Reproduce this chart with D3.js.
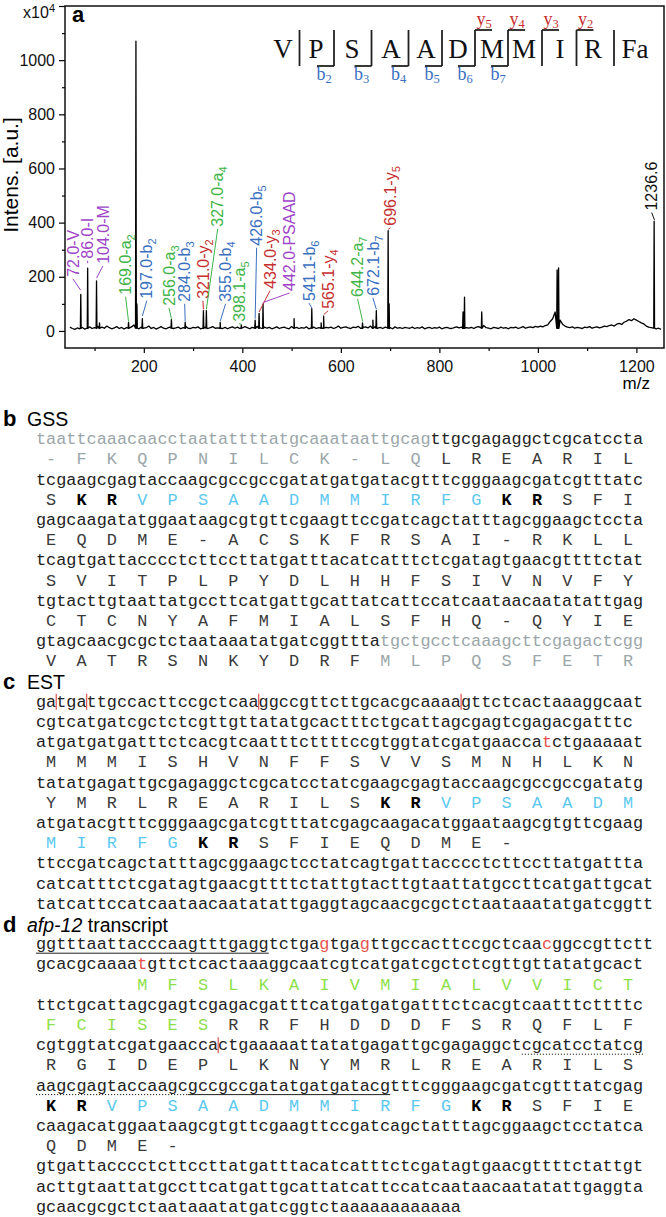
<!DOCTYPE html>
<html>
<head>
<meta charset="utf-8">
<script src="https://cdn.jsdelivr.net/npm/d3@7"></script>
<style>
body { margin: 0; background: #fff; }
text { font-family: "Liberation Sans", Arial, sans-serif; }
.seq { font-family: "Liberation Mono", "Courier New", monospace; font-size: 16.87px; }
</style>
</head>
<body>
<div id="chart"></div>
<script>
// ---- panel a: spectrum data ----
var peaks = [[72,135],[86,232],[104,185],[110,30],[169,32],[184,1070],[186,100],[197,45],[256,42],[284,32],
  [321,75],[327,75],[355,32],[398,22],[426,40],[434,65],[442,100],[505,45],[541,82],[560,30],[565,55],
  [644,30],[665,40],[672,75],[696,370],[698,100],[848,70],[851,125],[886,70],[1039,225],[1042,233],[1236,405]];

// baseline noise, every 5 m/z from 50
var noiseStart = 50, noiseStep = 5;
var noiseLevel = [
  14,9,6,11,8,13,7,10,15,9,12,20,26,14,10,18,12,8,11,16,
  9,13,7,12,10,15,22,11,8,14,10,12,18,9,13,7,11,16,10,8,
  12,15,9,11,14,8,12,17,10,9,13,11,15,8,10,14,9,12,16,10,
  11,18,9,13,8,12,15,10,14,9,11,16,12,8,13,10,17,12,9,14,
  10,13,8,11,15,9,12,14,10,8,16,11,13,9,12,10,15,8,11,14,
  9,12,16,10,13,11,14,9,12,18,10,13,15,11,9,14,12,17,10,13,
  15,11,18,12,16,10,13,9,14,11,12,8,15,10,12,9,13,11,10,14,
  9,12,10,15,8,11,13,9,12,10,14,8,11,13,10,9,12,15,11,14,
  18,12,10,13,9,14,16,11,20,12,10,8,13,11,9,14,10,12,8,13,
  11,14,9,12,16,10,13,15,12,17,14,18,15,20,22,35,45,70,90,40,
  25,18,14,12,15,10,13,11,9,14,12,16,10,13,15,11,14,18,16,20,
  22,18,25,28,24,32,36,42,38,45,40,35,30,26,18,14,12,10,8,10,
  6];

var labelMz = [72,86,104,169,197,256,284,321,327,355,398.1,426,434,442,541.1,565.1,644.2,672.1,696.1,1236.6];
var labelText = ['72.0-V','86.0-I','104.0-M','169.0-a','197.0-b','256.0-a','284.0-b','321.0-y','327.0-a','355.0-b',
  '398.1-a','426.0-b','434.0-y','442.0-PSAAD','541.1-b','565.1-y','644.2-a','672.1-b','696.1-y','1236.6'];
var labelSub = ['','','','2','2','3','3','2','4','4','5','5','3','','6','4','7','7','5',''];
var labelKind = ['imm','imm','imm','a','b','a','b','y','a','b','a','b','y','int','b','y','a','b','y','parent'];
var leaderEnd = [150,250,195,35,55,45,35,80,80,35,25,45,70,105,85,60,35,80,375,410];
// where each rotated label starts (m/z, intensity)
var labelAt = [[56,196],[86,263],[117,244],[163,130],[206,115],[251,89],[283,104],[320,115],[350,381],[366,104],
  [393,30],[429,311],[456,152],[496,144],[535,107],[574,78],[634,122],[665,126],[701,385],[1231,441]];

var xMajor = [200,400,600,800,1000,1200];
var xMinor = [100,300,500,700,900,1100];
var yMajor = [0,200,400,600,800,1000,1200];
var yMinor = [100,300,500,700,900,1100];

// peptide fragment map
var residues = ['V','P','S','A','A','D','M','M','I','R','Fa'];
var bIons = [2,3,4,5,6,7];
var yIons = [5,4,3,2];

// ---- panels b-d: sequences ----
var gssRows = [
  'taattcaaacaacctaatattttatgcaaataattgcagttgcgagaggctcgcatccta',
  '-FKQPNILCK-LQLREARIL',
  'tcgaagcgagtaccaagcgccgccgatatgatgatacgtttcgggaagcgatcgtttatc',
  'SKRVPSAADMMIRFGKRSFI',
  'gagcaagatatggaataagcgtgttcgaagttccgatcagctatttagcggaagctccta',
  'EQDME-ACSKFRSAI-RKLL',
  'tcagtgattacccctcttccttatgatttacatcatttctcgatagtgaacgttttctat',
  'SVITPLPYDLHHFSIVNVFY',
  'tgtacttgtaattatgccttcatgattgcattatcattccatcaataacaatatattgag',
  'CTCNYAFMIALSFHQ-QYIE',
  'gtagcaacgcgctctaataaatatgatcggtttatgctgcctcaaagcttcgagactcgg',
  'VATRSNKYDRFMLPQSFETR'
];
var gssSpans = [[0,0,39,'flank'],[1,0,13,'flank'],[3,1,3,'cleave'],[3,3,15,'peptide'],[3,15,17,'cleave'],
  [10,34,60,'flank'],[11,11,20,'flank']];

var estRows = [
  'gatgattgccacttccgctcaaggccgttcttgcacgcaaaagttctcactaaaggcaat',
  'cgtcatgatcgctctcgttgttatatgcactttctgcattagcgagtcgagacgatttc',
  'atgatgatgatttctcacgtcaatttcttttccgtggtatcgatgaaccatctgaaaaat',
  'MMMISHVNFFSVVSMNHLKN',
  'tatatgagattgcgagaggctcgcatcctatcgaagcgagtaccaagcgccgccgatatg',
  'YMRLREARILSKRVPSAADM',
  'atgatacgtttcgggaagcgatcgtttatcgagcaagacatggaataagcgtgttcgaag',
  'MIRFGKRSFIEQDME-',
  'ttccgatcagctatttagcggaagctcctatcagtgattacccctcttccttatgattta',
  'catcatttctcgatagtgaacgttttctattgtacttgtaattatgccttcatgattgcat',
  'tatcattccatcaataacaatatattgaggtagcaacgcgctctaataaatatgatcggtt'
];
var estSpans = [[2,50,51,'junction'],[5,11,13,'cleave'],[5,13,20,'peptide'],[7,0,5,'peptide'],[7,5,7,'cleave']];
var estCuts = [[0,2],[0,5],[0,22],[0,42]];

var afpRows = [
  'ggtttaattacccaagtttgaggtctgagtgagttgccacttccgctcaacggccgttctt',
  'gcacgcaaaatgttctcactaaaggcaatcgtcatgatcgctctcgttgttatatgcact',
  '   MFSLKAIVMIALVVICT',
  'ttctgcattagcgagtcgagacgatttcatgatgatgatttctcacgtcaatttcttttc',
  'FCISESRRFHDDDFSRQFLF',
  'cgtggtatcgatgaaccactgaaaaattatatgagattgcgagaggctcgcatcctatcg',
  'RGIDEPLKNYMRLREARILS',
  'aagcgagtaccaagcgccgccgatatgatgatacgtttcgggaagcgatcgtttatcgag',
  'KRVPSAADMMIRFGKRSFIE',
  'caagacatggaataagcgtgttcgaagttccgatcagctatttagcggaagctcctatca',
  'QDME-',
  'gtgattacccctcttccttatgatttacatcatttctcgatagtgaacgttttctattgt',
  'acttgtaattatgccttcatgattgcattatcattccatcaataacaatatattgaggta',
  'gcaacgcgctctaataaatatgatcggtctaaaaaaaaaaaa'
];
var afpSpans = [[0,28,29,'junction'],[0,32,33,'junction'],[0,50,51,'junction'],[1,10,11,'junction'],
  [2,3,20,'signal'],[4,0,6,'signal'],[8,0,2,'cleave'],[8,2,14,'peptide'],[8,14,16,'cleave']];
var afpCuts = [[5,18]];
var afpLines = [[0,0,23,'solid'],[5,48,60,'dotted'],[7,0,15,'dotted'],[7,15,35,'solid']];

// ---- styles ----
var ionColor = { imm: '#a044c8', int: '#a044c8', a: '#3fb447', b: '#3a6fbf', y: '#c62f2f', parent: '#111' };
var seqColor = { plain: '#222', flank: '#9aa6a9', cleave: '#000', peptide: '#5cc8ef', signal: '#8ee04a', junction: '#e5534b' };

var svg = d3.select('#chart').append('svg').attr('width', 666).attr('height', 1217);
svg.append('rect').attr('width', 666).attr('height', 1217).attr('fill', '#fff');

// ---- panel a ----
var x = d3.scaleLinear().domain([40, 1256]).range([65, 664]);
var y = d3.scaleLinear().domain([-63, 1200]).range([348, 6]);

svg.append('clipPath').attr('id', 'plotclip').append('rect')
  .attr('x', 65).attr('y', 6).attr('width', 599).attr('height', 342);

var pts = noiseLevel.map(function(v, i) { return [noiseStart + i * noiseStep, v]; });
peaks.forEach(function(p) {
  pts.push([p[0] - 0.8, 10], [p[0], p[1]], [p[0] + 0.8, 10]);
});
pts.sort(function(a, b) { return a[0] - b[0]; });

var line = d3.line().x(function(d) { return x(d[0]); }).y(function(d) { return y(d[1]); });
svg.append('path').attr('d', line(pts)).attr('clip-path', 'url(#plotclip)')
  .attr('fill', 'none').attr('stroke', '#000').attr('stroke-width', 1.3).attr('stroke-linejoin', 'round');

// axes
svg.append('g').attr('transform', 'translate(0,348)')
  .call(d3.axisBottom(x).tickValues(xMajor).tickSize(5).tickPadding(8).tickSizeOuter(0).tickFormat(d3.format('d')));
svg.append('g').attr('transform', 'translate(0,348)')
  .call(d3.axisBottom(x).tickValues(xMinor).tickSize(3).tickFormat('').tickSizeOuter(0));
var gy = svg.append('g').attr('transform', 'translate(65,0)')
  .call(d3.axisLeft(y).tickValues(yMajor).tickSize(6).tickPadding(4).tickSizeOuter(0)
    .tickFormat(function(d) { return d === 1200 ? 'x10' : String(d); }));
svg.append('g').attr('transform', 'translate(65,0)')
  .call(d3.axisLeft(y).tickValues(yMinor).tickSize(3).tickFormat('').tickSizeOuter(0));
svg.selectAll('.domain').remove();
svg.selectAll('.tick line').attr('stroke', '#000').attr('stroke-width', 1.2);
svg.selectAll('.tick text').attr('fill', '#111').style('font-size', '16px')
  .style('font-family', '"Liberation Sans", Arial, sans-serif');
gy.selectAll('.tick text').filter(function(d) { return d === 1200; })
  .attr('dy', '0.7em')
  .append('tspan').attr('dy', -6).style('font-size', '11px').text('4');

svg.append('rect').attr('x', 65).attr('y', 6).attr('width', 599).attr('height', 342)
  .attr('fill', 'none').attr('stroke', '#111').attr('stroke-width', 1.5);

svg.append('text').attr('x', 650).attr('y', 389).attr('text-anchor', 'end')
  .style('font-size', '17px').text('m/z');
svg.append('text').attr('transform', 'translate(18,175) rotate(-90)').attr('text-anchor', 'middle')
  .style('font-size', '21px').text('Intens. [a.u.]');
svg.append('text').attr('x', 72).attr('y', 22).style('font-size', '22px').style('font-weight', 'bold').text('a');

// peak labels
var ann = svg.append('g');
labelText.forEach(function(txt, i) {
  var col = ionColor[labelKind[i]];
  var lx = x(labelAt[i][0]), ly = y(labelAt[i][1]);
  ann.append('line').attr('x1', lx).attr('y1', ly + 1).attr('x2', x(labelMz[i])).attr('y2', y(leaderEnd[i]))
    .attr('stroke', col).attr('stroke-width', 1);
  var t = ann.append('text').attr('transform', 'translate(' + (lx + 5.7) + ',' + (ly - 1) + ') rotate(-90)')
    .attr('fill', col).style('font-size', '16px');
  t.append('tspan').text(txt);
  if (labelSub[i]) t.append('tspan').attr('dy', 4).style('font-size', '11px').text(labelSub[i]);
});

// peptide fragment diagram
var resX = [283, 316, 352, 391, 426, 458, 492, 524, 560, 593, 635];
var pep = svg.append('g');
residues.forEach(function(r, i) {
  pep.append('text').attr('x', resX[i]).attr('y', 58).attr('text-anchor', 'middle')
    .style('font-family', '"Liberation Serif", "Times New Roman", serif').style('font-size', '27px')
    .attr('fill', '#111').text(r);
});
for (var k = 1; k < residues.length; k++) {
  var sx = (resX[k - 1] + resX[k]) / 2;
  pep.append('line').attr('x1', sx).attr('x2', sx).attr('y1', 30).attr('y2', 66)
    .attr('stroke', '#222').attr('stroke-width', 1.8);
  if (bIons.indexOf(k) >= 0) {
    pep.append('line').attr('x1', sx - 17).attr('x2', sx).attr('y1', 66).attr('y2', 66)
      .attr('stroke', '#222').attr('stroke-width', 1.8);
    var bt = pep.append('text').attr('x', sx - 10).attr('y', 80).attr('text-anchor', 'middle')
      .attr('fill', ionColor.b).style('font-family', '"Liberation Serif", serif').style('font-size', '18px');
    bt.append('tspan').text('b');
    bt.append('tspan').attr('dy', 3).style('font-size', '12.5px').text(k);
  }
  var yn = residues.length - k;
  if (yIons.indexOf(yn) >= 0) {
    pep.append('line').attr('x1', sx).attr('x2', sx + 17).attr('y1', 30).attr('y2', 30)
      .attr('stroke', '#222').attr('stroke-width', 1.8);
    var yt = pep.append('text').attr('x', sx + 9).attr('y', 25).attr('text-anchor', 'middle')
      .attr('fill', ionColor.y).style('font-family', '"Liberation Serif", serif').style('font-size', '18px');
    yt.append('tspan').text('y');
    yt.append('tspan').attr('dy', 3).style('font-size', '12.5px').text(yn);
  }
}

// ---- panels b-d ----
var cw = 10.122, x0 = 36, rowH = 20.2, base0 = 424;
function rowY(r) { return base0 + r * rowH; }

function heading(row, letter, parts) {
  var yy = rowY(row) + (row > 20 ? 3 : 2);
  svg.append('text').attr('x', 3).attr('y', yy).style('font-size', '22px').style('font-weight', 'bold').text(letter);
  var t = svg.append('text').attr('x', 27).attr('y', yy).style('font-size', '19.5px');
  parts.forEach(function(p) {
    t.append('tspan').style('font-style', p[1] ? 'italic' : 'normal').text(p[0]);
  });
}

function drawSeqPanel(rows, spans, firstRow, cuts, lines) {
  var g = svg.append('g');
  rows.forEach(function(s, r) {
    var yy = rowY(firstRow + r);
    var kinds = s.split('').map(function() { return 'plain'; });
    spans.filter(function(sp) { return sp[0] === r; }).forEach(function(sp) {
      for (var i = sp[1]; i < sp[2]; i++) kinds[i] = sp[3];
    });
    if (/[a-z]/.test(s)) {
      var t = g.append('text').attr('class', 'seq').attr('x', x0).attr('y', yy);
      var i = 0;
      while (i < s.length) {
        var j = i;
        while (j < s.length && kinds[j] === kinds[i]) j++;
        t.append('tspan').attr('fill', seqColor[kinds[i]]).text(s.slice(i, j));
        i = j;
      }
    } else {
      s.split('').forEach(function(c, k) {
        if (c === ' ') return;
        g.append('text').attr('class', 'seq').attr('x', x0 + (3 * k + 1.5) * cw).attr('y', yy)
          .attr('text-anchor', 'middle')
          .attr('fill', kinds[k] === 'plain' ? '#3a3a3a' : seqColor[kinds[k]])
          .style('font-weight', kinds[k] === 'cleave' ? 'bold' : null)
          .text(c);
      });
    }
  });
  (cuts || []).forEach(function(c) {
    var yy = rowY(firstRow + c[0]), cx = x0 + c[1] * cw;
    g.append('line').attr('x1', cx).attr('x2', cx).attr('y1', yy - 13).attr('y2', yy + 3)
      .attr('stroke', '#e06060').attr('stroke-width', 1.3);
  });
  (lines || []).forEach(function(l) {
    var yy = rowY(firstRow + l[0]) + 4;
    g.append('line').attr('x1', x0 + l[1] * cw).attr('x2', x0 + l[2] * cw).attr('y1', yy).attr('y2', yy)
      .attr('stroke', '#222').attr('stroke-width', 1)
      .attr('stroke-dasharray', l[3] === 'dotted' ? '1.2,1.8' : null);
  });
}

heading(0, 'b', [['GSS', false]]);
drawSeqPanel(gssRows, gssSpans, 1);
heading(13, 'c', [['EST', false]]);
drawSeqPanel(estRows, estSpans, 14, estCuts);
heading(25, 'd', [['afp-12', true], [' transcript', false]]);
drawSeqPanel(afpRows, afpSpans, 26, afpCuts, afpLines);
</script>
</body>
</html>
